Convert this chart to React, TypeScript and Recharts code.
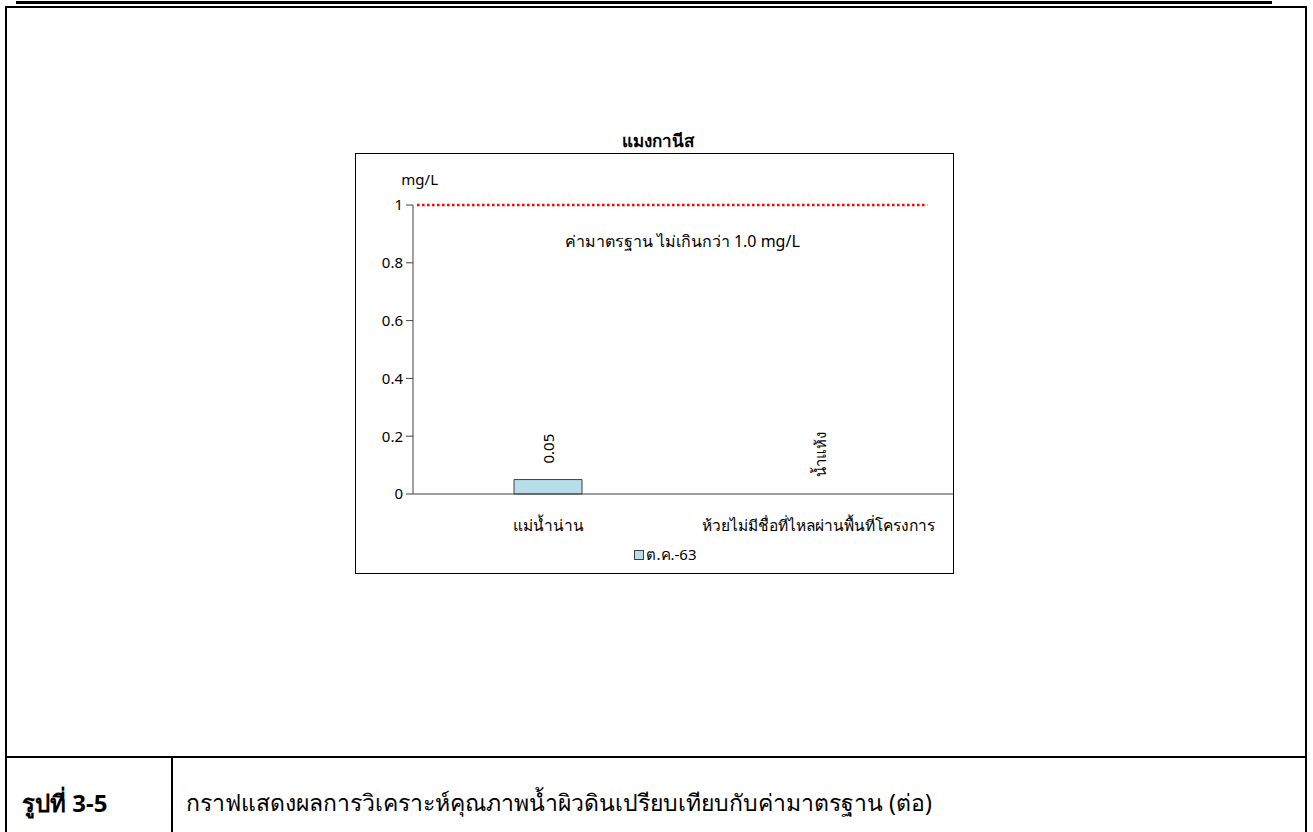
import React from "react"
import {
  BarChart,
  Bar,
  XAxis,
  YAxis,
  ReferenceLine,
  ReferenceDot,
  LabelList,
  Legend,
} from "recharts"

// stations sampled
const stations = ["แม่น้ำน่าน", "ห้วยไม่มีชื่อที่ไหลผ่านพื้นที่โครงการ"]
// manganese, mg/L (second station was dry → 0, no bar)
const octValues = [0.05, 0]
const valueLabels = ["0.05", "น้ำแห้ง"]
const yTicks = [0, 0.2, 0.4, 0.6, 0.8, 1]
const standardValue = 1
const standardText = "ค่ามาตรฐาน ไม่เกินกว่า 1.0 mg/L"
const seriesName = "ต.ค.-63"
const chartTitle = "แมงกานีส"
const figureNo = "รูปที่ 3-5"
const figureCaption = "กราฟแสดงผลการวิเคราะห์คุณภาพน้ำผิวดินเปรียบเทียบกับค่ามาตรฐาน (ต่อ)"

const data = stations.map((station, i) => ({
  station,
  oct: octValues[i],
  label: valueLabels[i],
  pos: i + 0.5,
}))
const dryRows = data.filter((d) => d.oct === 0)

const FONT = "'Noto Sans', Tahoma, sans-serif"
const BAR_FILL = "#B7DEE8"
const BAR_STROKE = "#404040"
const AXIS = "#404040"

// vertical text, reading bottom to top, its foot sitting at (x, y)
function UpText({ x, y, text }: { x: number; y: number; text: string }) {
  return (
    <text
      x={x}
      y={y}
      transform={`rotate(-90 ${x} ${y})`}
      textAnchor="start"
      dominantBaseline="central"
      fontSize={15}
      fill="#000"
      fontFamily={FONT}
    >
      {text}
    </text>
  )
}

function ValueLabel(props: any) {
  const { x, y, width, index } = props
  const row = data[index]
  if (!row || !(row.oct > 0)) return null
  return <UpText x={x + width / 2} y={y - 16} text={row.label} />
}

function DryLabel({ viewBox, text }: any) {
  const vb = viewBox || {}
  const cx = (vb.x ?? 0) + (vb.width ?? 0) / 2 + 2
  const cy = (vb.y ?? 0) + (vb.height ?? 0) / 2
  return <UpText x={cx} y={cy - 17} text={text} />
}

function LegendBox(props: any) {
  const item = props.payload?.[0]
  return (
    <div style={{ display: "flex", justifyContent: "center", alignItems: "center", fontFamily: FONT, fontSize: 15, color: "#000", paddingLeft: 22 }}>
      <span style={{ width: 8, height: 8, background: BAR_FILL, border: `1px solid ${BAR_STROKE}`, display: "inline-block", marginRight: 2 }} />
      <span>{item?.value ?? seriesName}</span>
    </div>
  )
}

export default function App() {
  return (
    <div style={{ position: "absolute", left: 0, top: 0, width: 1313, height: 832, background: "#fff", overflow: "hidden", fontFamily: FONT }}>
      {/* page rules */}
      <div style={{ position: "absolute", left: 16, top: 1, width: 1256, height: 3, background: "#000" }} />
      <div style={{ position: "absolute", left: 5, top: 6, width: 1298, height: 840, borderTop: "2px solid #000", borderLeft: "2px solid #000", borderRight: "2px solid #000" }} />
      <div style={{ position: "absolute", left: 5, top: 756, width: 1302, height: 2, background: "#000" }} />
      <div style={{ position: "absolute", left: 171, top: 756, width: 2, height: 80, background: "#000" }} />
      <div style={{ position: "absolute", left: 22, top: 784, fontSize: 24, fontWeight: 700, color: "#000" }}>{figureNo}</div>
      <div style={{ position: "absolute", left: 186, top: 785, fontSize: 23, color: "#000" }}>{figureCaption}</div>

      {/* chart title */}
      <div style={{ position: "absolute", left: 358, top: 127, width: 600, textAlign: "center", fontSize: 17, fontWeight: 700, color: "#000" }}>{chartTitle}</div>

      {/* chart frame */}
      <div style={{ position: "absolute", left: 355, top: 153, width: 597, height: 419, border: "1px solid #000" }}>
        <BarChart
          width={597}
          height={419}
          data={data}
          margin={{ top: 51, right: 0, bottom: 0, left: 0 }}
          barSize={68}
        >
          <XAxis
            dataKey="station"
            stroke={AXIS}
            tickLine={false}
            tick={{ fill: "#000", fontSize: 15.5, fontFamily: FONT }}
            tickMargin={20}
            height={48}
          />
          <XAxis
            xAxisId="sep"
            type="number"
            dataKey="pos"
            domain={[0, 2]}
            ticks={[0, 1, 2]}
            axisLine={false}
            tick={false}
            tickSize={5}
            stroke={AXIS}
            height={1}
          />
          <YAxis
            domain={[0, 1]}
            ticks={yTicks}
            width={57}
            stroke={AXIS}
            tickSize={7}
            tickMargin={3}
            tick={{ fill: "#000", fontSize: 15, fontFamily: FONT }}
            tickFormatter={(v: number) => String(v)}
            label={() => (
              <text x={82} y={25} textAnchor="end" dominantBaseline="central" fontSize={15} fill="#000" fontFamily={FONT}>
                mg/L
              </text>
            )}
          />
          <ReferenceLine
            xAxisId="sep"
            segment={[
              { x: 0.015, y: standardValue },
              { x: 1.905, y: standardValue },
            ]}
            stroke="#FF0000"
            strokeWidth={2.5}
            strokeDasharray="2.5 2.5"
            label={(p: any) => {
              const vb = p.viewBox || {}
              return (
                <text
                  x={(vb.x ?? 0) + (vb.width ?? 0) / 2 + 10}
                  y={(vb.y ?? 0) + 36}
                  textAnchor="middle"
                  dominantBaseline="central"
                  fontSize={16}
                  fill="#000"
                  fontFamily={FONT}
                >
                  {standardText}
                </text>
              )
            }}
          />
          <Bar
            dataKey="oct"
            name={seriesName}
            fill={BAR_FILL}
            stroke={BAR_STROKE}
            strokeWidth={1}
            isAnimationActive={false}
          >
            <LabelList dataKey="oct" content={<ValueLabel />} />
          </Bar>
          {dryRows.map((r) => (
            <ReferenceDot
              key={r.station}
              x={r.station}
              y={0}
              r={1}
              fill="none"
              stroke="none"
              label={(p: any) => <DryLabel viewBox={p.viewBox} text={r.label} />}
            />
          ))}
          <Legend content={<LegendBox />} verticalAlign="bottom" height={30} />
        </BarChart>
      </div>
    </div>
  )
}
